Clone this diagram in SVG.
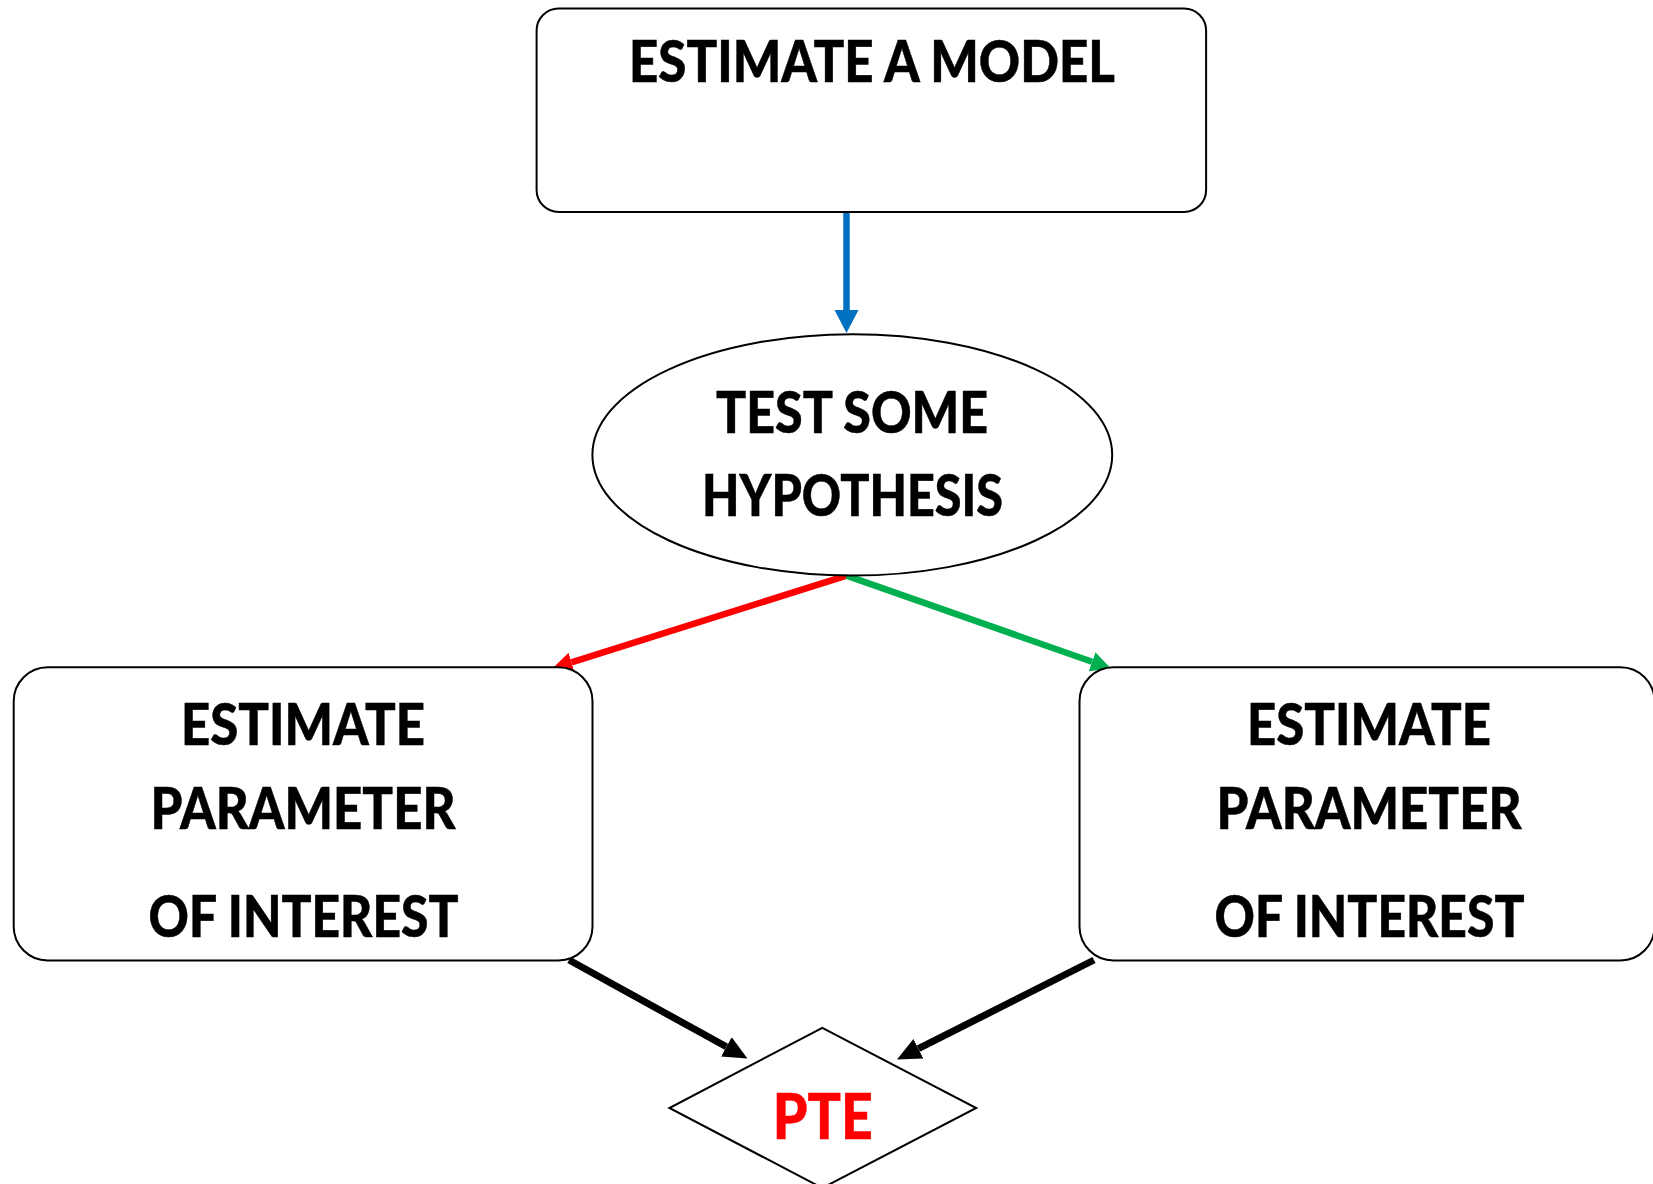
<svg xmlns="http://www.w3.org/2000/svg" width="1653" height="1184" viewBox="0 0 1653 1184">
<style>
.node{fill:#fff;stroke:#000;stroke-width:2}
.lbl{font-family:Lato,"Open Sans","Liberation Sans",sans-serif;font-weight:900;font-size:58px;fill:#000;stroke:#000;stroke-width:0.5;text-anchor:middle}
.red{fill:#ff0000;stroke:#ff0000;font-size:62px}
.conn{fill:none;stroke-linecap:butt}
</style>
<defs>
<marker id="hb" markerUnits="userSpaceOnUse" markerWidth="30" markerHeight="30" refX="0" refY="12" orient="auto" viewBox="0 0 30 30"><path d="M0,0 L23,12 L0,24 z" fill="#0070c0"/></marker>
<marker id="hr" markerUnits="userSpaceOnUse" markerWidth="30" markerHeight="30" refX="0" refY="10" orient="auto" viewBox="0 0 30 30"><path d="M0,0 L20,10 L0,20 z" fill="#ff0000"/></marker>
<marker id="hg" markerUnits="userSpaceOnUse" markerWidth="30" markerHeight="30" refX="0" refY="10" orient="auto" viewBox="0 0 30 30"><path d="M0,0 L20,10 L0,20 z" fill="#00b050"/></marker>
<marker id="hk" markerUnits="userSpaceOnUse" markerWidth="30" markerHeight="30" refX="0" refY="11" orient="auto" viewBox="0 0 30 30"><path d="M0,0 L24,11 L0,22 z" fill="#000"/></marker>
</defs>
<g id="connectors">
<line class="conn" x1="846.5" y1="212" x2="846.5" y2="310" stroke="#0070c0" stroke-width="6.5" marker-end="url(#hb)"/>
<line class="conn" x1="846.5" y1="575.6" x2="571.5" y2="662.4" stroke="#ff0000" stroke-width="6.5" marker-end="url(#hr)"/>
<line class="conn" x1="846.5" y1="575.6" x2="1092.1" y2="661.8" stroke="#00b050" stroke-width="6.5" marker-end="url(#hg)"/>
<line class="conn" x1="569" y1="960" x2="726.4" y2="1046.8" stroke="#000" stroke-width="7" marker-end="url(#hk)"/>
<line class="conn" x1="1094" y1="960" x2="918.4" y2="1048.7" stroke="#000" stroke-width="7" marker-end="url(#hk)"/>
</g>
<g id="estimate-model">
<rect class="node" x="536.6" y="8.5" width="669.5" height="203.5" rx="22" ry="22"/>
<text class="lbl" x="872" y="82" textLength="486" lengthAdjust="spacingAndGlyphs">ESTIMATE A MODEL</text>
</g>
<g id="test-hypothesis">
<ellipse class="node" cx="852.3" cy="454.9" rx="259.9" ry="120.7"/>
<text class="lbl" x="852" y="433" textLength="272" lengthAdjust="spacingAndGlyphs">TEST SOME</text>
<text class="lbl" x="852.5" y="515.5" textLength="301" lengthAdjust="spacingAndGlyphs">HYPOTHESIS</text>
</g>
<g id="estimate-left">
<rect class="node" x="13.7" y="667.3" width="578.8" height="293.1" rx="34" ry="34"/>
<text class="lbl" x="303" y="745" textLength="244" lengthAdjust="spacingAndGlyphs">ESTIMATE</text>
<text class="lbl" x="303" y="828.6" textLength="305" lengthAdjust="spacingAndGlyphs">PARAMETER</text>
<text class="lbl" x="303.6" y="937.2" textLength="310" lengthAdjust="spacingAndGlyphs">OF INTEREST</text>
</g>
<g id="estimate-right">
<rect class="node" x="1079.5" y="667.3" width="575" height="293.1" rx="34" ry="34"/>
<text class="lbl" x="1369" y="745" textLength="244" lengthAdjust="spacingAndGlyphs">ESTIMATE</text>
<text class="lbl" x="1369" y="828.6" textLength="305" lengthAdjust="spacingAndGlyphs">PARAMETER</text>
<text class="lbl" x="1369.5" y="937.2" textLength="310" lengthAdjust="spacingAndGlyphs">OF INTEREST</text>
</g>
<g id="pte">
<polygon class="node" points="822.3,1027.8 976.2,1108 822.3,1188 669.4,1108"/>
<text class="lbl red" x="822.8" y="1138.5" textLength="100" lengthAdjust="spacingAndGlyphs">PTE</text>
</g>
</svg>
